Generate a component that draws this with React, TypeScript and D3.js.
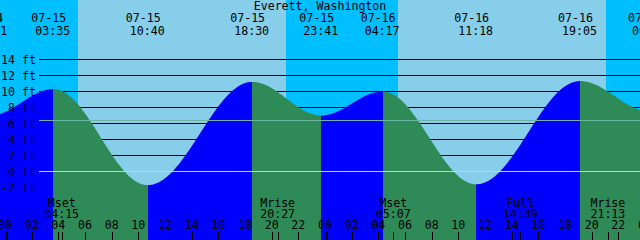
import React from "react";
import * as d3 from "d3";

// ---------- data ----------
const title = "Everett, Washington";

// tide extremes (high / low)
const tideDates = ["07-14", "07-15", "07-15", "07-15", "07-15", "07-16", "07-16", "07-16", "07-17"];
const tideTimes = ["22:51", "03:35", "10:40", "18:30", "23:41", "04:17", "11:18", "19:05", "00:20"];
const tideHeights = [7.0, 10.3, -1.7, 11.2, 7.0, 10.0, -1.6, 11.3, 7.5];

// sun events (background day/night bands)
const sunriseDates = ["07-15", "07-16"];
const sunriseTimes = ["05:26", "05:26"];
const sunsetDates = ["07-15", "07-16"];
const sunsetTimes = ["21:02", "21:02"];

// moon events (bottom labels)
const moonDates = ["07-15", "07-15", "07-16", "07-16", "07-16"];
const moonLabels = ["Mset", "Mrise", "Mset", "Full", "Mrise"];
const moonTimes = ["04:15", "20:27", "05:07", "14:39", "21:13"];

// axis ticks
const levelTicks = [14, 12, 10, 8, 6, 4, 2, 0, -2];
const hourTicks = [0, 2, 4, 6, 8, 10, 12, 14, 16, 18, 20, 22, 24, 26, 28, 30, 32, 34, 36, 38, 40, 42, 44, 46, 48];
const meanSeaLevel = 6.4;
const datumLevel = 0;

// ---------- styling ----------
const W = 640;
const H = 240;
const FONT = "'DejaVu Sans Mono', 'Liberation Mono', monospace";
const FS = 11.6;
const C_NIGHT = "#00BFFF";
const C_DAY = "#87CEEB";
const C_RISE = "#0000FF";
const C_FALL = "#2E8B57";
const C_MSL = "#6FB3A6";
const C_DATUM = "#B0D8F0";

function toHours(date: string, time: string): number {
  const day = parseInt(date.slice(3), 10) - 15;
  const [hh, mm] = time.split(":").map((s) => parseInt(s, 10));
  return day * 24 + hh + mm / 60;
}

export default function App() {
  React.useLayoutEffect(() => {
    document.body.style.margin = "0";
  }, []);

  const x = d3.scaleLinear().domain([0, 48]).range([5.5, 645.5]);
  const y = d3.scaleLinear().domain([0, 14]).range([171.5, 59.5]);

  const tideT = tideDates.map((d, i) => toHours(d, tideTimes[i]));

  // tide level between extremes (cosine-shaped)
  const level = (t: number): number => {
    let i = 0;
    while (i < tideT.length - 2 && t > tideT[i + 1]) i++;
    const u = Math.max(0, Math.min(1, (t - tideT[i]) / (tideT[i + 1] - tideT[i])));
    return d3.interpolateNumber(tideHeights[i], tideHeights[i + 1])(d3.easeSinInOut(u));
  };
  const samples = d3.range(-2, W + 3, 1).map((px) => x.invert(px));
  const area = d3
    .area<number>()
    .x((t) => x(t))
    .y0(H)
    .y1((t) => y(level(t)));
  const areaPath = area(samples) || "";

  const sunrise = sunriseDates.map((d, i) => toHours(d, sunriseTimes[i]));
  const sunset = sunsetDates.map((d, i) => toHours(d, sunsetTimes[i]));
  const moonT = moonDates.map((d, i) => toHours(d, moonTimes[i]));

  const gridX0 = 39;

  return (
    <svg
      width={W}
      height={H}
      style={{ position: "absolute", left: 0, top: 0, display: "block" }}
      fontFamily={FONT}
      fontSize={FS}
    >
      <defs>
        <clipPath id="tideClip">
          <path d={areaPath} />
        </clipPath>
      </defs>

      {/* night / day background */}
      <rect x={0} y={0} width={W} height={H} fill={C_NIGHT} />
      {sunrise.map((t, i) => (
        <rect
          key={"day" + i}
          x={x(t)}
          y={0}
          width={x(sunset[i]) - x(t)}
          height={H}
          fill={C_DAY}
          shapeRendering="crispEdges"
        />
      ))}

      {/* level grid lines (under the tide) */}
      {levelTicks.map((v) => (
        <line key={"g" + v} x1={gridX0} x2={W} y1={y(v)} y2={y(v)} stroke="#000" strokeWidth={1} shapeRendering="crispEdges" />
      ))}

      {/* tide fill: rising blue, falling green */}
      <g clipPath="url(#tideClip)">
        {tideT.slice(0, -1).map((t, i) => (
          <rect
            key={"seg" + i}
            x={x(t)}
            y={0}
            width={x(tideT[i + 1]) - x(t)}
            height={H}
            fill={tideHeights[i + 1] > tideHeights[i] ? C_RISE : C_FALL}
            shapeRendering="crispEdges"
          />
        ))}
      </g>

      {/* mean sea level and datum */}
      <line x1={gridX0} x2={W} y1={Math.round(y(meanSeaLevel)) + 0.5} y2={Math.round(y(meanSeaLevel)) + 0.5} stroke={C_MSL} strokeWidth={1} shapeRendering="crispEdges" />
      <line x1={gridX0} x2={W} y1={y(datumLevel)} y2={y(datumLevel)} stroke={C_DATUM} strokeWidth={1} shapeRendering="crispEdges" />

      {/* title */}
      <text x={W / 2} y={10} textAnchor="middle" fill="#000">
        {title}
      </text>

      {/* tide event labels */}
      {tideT.map((t, i) => (
        <g key={"tl" + i}>
          <text x={x(t) - 4.5} y={22} textAnchor="middle" fill="#000">
            {tideDates[i]}
          </text>
          <text x={x(t) - 0.5} y={34.5} textAnchor="middle" fill="#000">
            {tideTimes[i]}
          </text>
        </g>
      ))}

      {/* level labels */}
      {levelTicks.map((v) => (
        <text key={"yl" + v} x={36} y={y(v) + 4.2} textAnchor="end" fill="#000">
          {v + " ft"}
        </text>
      ))}

      {/* moon event labels */}
      {moonT.map((t, i) => (
        <g key={"ml" + i}>
          <text x={x(t) - 0.5} y={206.7} textAnchor="middle" fill="#000">
            {moonLabels[i]}
          </text>
          <text x={x(t) - 0.5} y={218.3} textAnchor="middle" fill="#000">
            {moonTimes[i]}
          </text>
        </g>
      ))}

      {/* hour labels and ticks */}
      {hourTicks.map((h) => (
        <g key={"h" + h}>
          <text x={x(h) - 0.5} y={229.3} textAnchor="middle" fill="#000">
            {d3.format("02d")(h % 24)}
          </text>
          {h % 24 === 0 ? (
            <rect x={Math.round(x(h)) - 1} y={232} width={3} height={8} fill="#000" shapeRendering="crispEdges" />
          ) : (
            <line x1={Math.floor(x(h)) + 0.5} x2={Math.floor(x(h)) + 0.5} y1={232} y2={H} stroke="#000" shapeRendering="crispEdges" />
          )}
        </g>
      ))}
      {moonT.map((t, i) => (
        <line key={"mt" + i} x1={Math.floor(x(t)) + 0.5} x2={Math.floor(x(t)) + 0.5} y1={232} y2={H} stroke="#000" shapeRendering="crispEdges" />
      ))}
    </svg>
  );
}
